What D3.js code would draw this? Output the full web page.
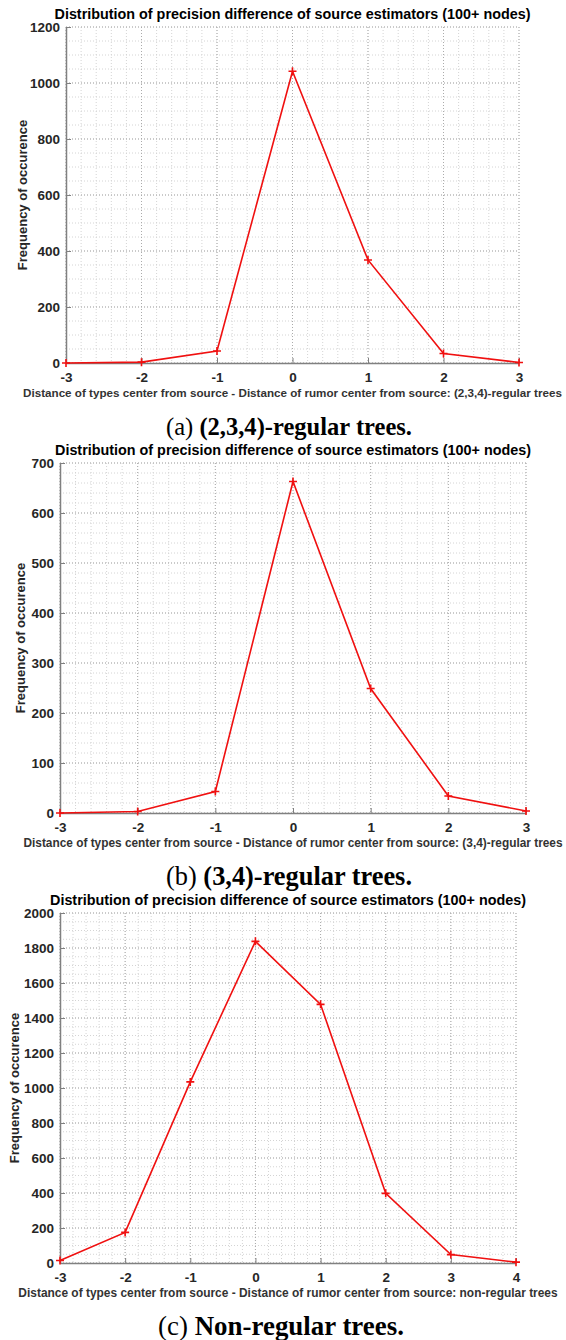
<!DOCTYPE html>
<html>
<head>
<meta charset="utf-8">
<script src="https://cdn.jsdelivr.net/npm/d3@7"></script>
<style>
  body { margin: 0; background: #fff; }
  svg { display: block; }
  .tick text { font-family: "Liberation Sans", Arial, sans-serif; font-weight: bold; fill: #262626; }
</style>
</head>
<body>
<div id="chart"></div>
<script>
// values
var xA = [-3, -2, -1, 0, 1, 2, 3];
var yA = [0, 3, 43, 1042, 368, 34, 2];

var xB = [-3, -2, -1, 0, 1, 2, 3];
var yB = [0, 3, 43, 663, 249, 34, 4];

var xC = [-3, -2, -1, 0, 1, 2, 3, 4];
var yC = [14, 175, 1035, 1838, 1478, 398, 48, 5];

var yTicksA = [0, 200, 400, 600, 800, 1000, 1200];
var yTicksB = [0, 100, 200, 300, 400, 500, 600, 700];
var yTicksC = [0, 200, 400, 600, 800, 1000, 1200, 1400, 1600, 1800, 2000];

var title = "Distribution of precision difference of source estimators (100+ nodes)";
var yLabel = "Frequency of occurence";
var xLabelBase = "Distance of types center from source - Distance of rumor center from source: ";

var panels = [
  {x: xA, y: yA, xDom: [-3, 3], yTicks: yTicksA, yMinor: 50, suffix: "(2,3,4)-regular trees",
   left: 66, right: 519, top: 27, bottom: 363, ylabX: 22, tag: "(a) ", cap: "(2,3,4)-regular trees.", capX: 289},
  {x: xB, y: yB, xDom: [-3, 3], yTicks: yTicksB, yMinor: 20, suffix: "(3,4)-regular trees",
   left: 60, right: 526, top: 463, bottom: 813, ylabX: 20, tag: "(b) ", cap: "(3,4)-regular trees.", capX: 289},
  {x: xC, y: yC, xDom: [-3, 4], yTicks: yTicksC, yMinor: 50, suffix: "non-regular trees",
   left: 60, right: 516, top: 913, bottom: 1263, ylabX: 14, tag: "(c) ", cap: "Non-regular trees.", capX: 281}
];

var svg = d3.select("#chart")
  .append("svg")
    .attr("width", 566)
    .attr("height", 1340);

function fit(sel, target) {
  var w = sel.node().getBBox().width;
  var fs = parseFloat(sel.attr("font-size"));
  sel.attr("font-size", (fs * target / w).toFixed(2));
}

var fmt = function(d) { return String(d); };  // plain hyphen minus like the original

panels.forEach(function(p) {
  var x = d3.scaleLinear().domain(p.xDom).range([p.left, p.right]);
  var y = d3.scaleLinear().domain([0, d3.max(p.yTicks)]).range([p.bottom, p.top]);

  var g = svg.append("g");

  // minor grid
  var xMinor = d3.range(p.xDom[0], p.xDom[1] + 1e-9, 0.2);
  var yMinor = d3.range(0, d3.max(p.yTicks) + 1e-9, p.yMinor);
  g.selectAll(".vminor").data(xMinor).enter().append("line")
    .attr("x1", function(d) { return x(d); }).attr("x2", function(d) { return x(d); })
    .attr("y1", p.top).attr("y2", p.bottom)
    .attr("stroke", "#d4d4d4").attr("stroke-dasharray", "1,2");
  g.selectAll(".hminor").data(yMinor).enter().append("line")
    .attr("x1", p.left).attr("x2", p.right)
    .attr("y1", function(d) { return y(d); }).attr("y2", function(d) { return y(d); })
    .attr("stroke", "#d4d4d4").attr("stroke-dasharray", "1,2");

  // major grid
  var xMajor = d3.range(p.xDom[0], p.xDom[1] + 1);
  g.selectAll(".vmajor").data(xMajor).enter().append("line")
    .attr("x1", function(d) { return x(d); }).attr("x2", function(d) { return x(d); })
    .attr("y1", p.top).attr("y2", p.bottom)
    .attr("stroke", "#ababab").attr("stroke-dasharray", "1,2");
  g.selectAll(".hmajor").data(p.yTicks).enter().append("line")
    .attr("x1", p.left).attr("x2", p.right)
    .attr("y1", function(d) { return y(d); }).attr("y2", function(d) { return y(d); })
    .attr("stroke", "#ababab").attr("stroke-dasharray", "1,2");

  // axes
  var xAxis = g.append("g")
    .attr("transform", "translate(0," + p.bottom + ")")
    .call(d3.axisBottom(x).tickValues(xMajor).tickFormat(fmt).tickSize(-5).tickPadding(9).tickSizeOuter(0));
  var yAxis = g.append("g")
    .attr("transform", "translate(" + p.left + ",0)")
    .call(d3.axisLeft(y).tickValues(p.yTicks).tickFormat(fmt).tickSize(-5).tickPadding(6).tickSizeOuter(0));
  [xAxis, yAxis].forEach(function(a) {
    a.select(".domain").attr("stroke", "#808080").attr("stroke-width", 1.5);
    a.selectAll(".tick line").attr("stroke", "#808080");
    a.selectAll(".tick text").attr("font-size", 13.5);
  });

  // data line
  var pts = p.x.map(function(d, i) { return [d, p.y[i]]; });
  g.append("path")
    .datum(pts)
    .attr("fill", "none")
    .attr("stroke", "#f01010")
    .attr("stroke-width", 1.6)
    .attr("d", d3.line().x(function(d) { return x(d[0]); }).y(function(d) { return y(d[1]); }));
  g.selectAll(".mark").data(pts).enter().append("path")
    .attr("d", function(d) {
      var cx = x(d[0]), cy = y(d[1]);
      return "M" + (cx - 4) + "," + cy + "H" + (cx + 4) + "M" + cx + "," + (cy - 4) + "V" + (cy + 4);
    })
    .attr("stroke", "#f01010")
    .attr("stroke-width", 1.6);

  var cx = (p.left + p.right) / 2;

  // title
  var t = g.append("text")
    .attr("x", cx).attr("y", p.top - 8)
    .attr("text-anchor", "middle")
    .attr("font-family", "Liberation Sans, Arial, sans-serif")
    .attr("font-weight", "bold")
    .attr("font-size", 12.5)
    .attr("fill", "#000")
    .text(title);
  fit(t, 476);

  // x label
  var xl = g.append("text")
    .attr("x", cx).attr("y", p.bottom + 34)
    .attr("text-anchor", "middle")
    .attr("font-family", "Liberation Sans, Arial, sans-serif")
    .attr("font-weight", "bold")
    .attr("font-size", 10)
    .attr("fill", "#333")
    .text(xLabelBase + p.suffix);
  fit(xl, 540);

  // y label
  g.append("text")
    .attr("transform", "translate(" + p.ylabX + "," + ((p.top + p.bottom) / 2) + ") rotate(-90)")
    .attr("dy", "0.35em")
    .attr("text-anchor", "middle")
    .attr("font-family", "Liberation Sans, Arial, sans-serif")
    .attr("font-weight", "bold")
    .attr("font-size", 13)
    .attr("fill", "#262626")
    .text(yLabel);

  // caption
  var c = g.append("text")
    .attr("x", p.capX).attr("y", p.bottom + 72)
    .attr("text-anchor", "middle")
    .attr("font-family", "Liberation Serif, Times New Roman, serif")
    .attr("font-size", 22)
    .attr("fill", "#000");
  c.append("tspan").text(p.tag);
  c.append("tspan").attr("font-weight", "bold").text(p.cap);
  fit(c, 246);
});
</script>
</body>
</html>
